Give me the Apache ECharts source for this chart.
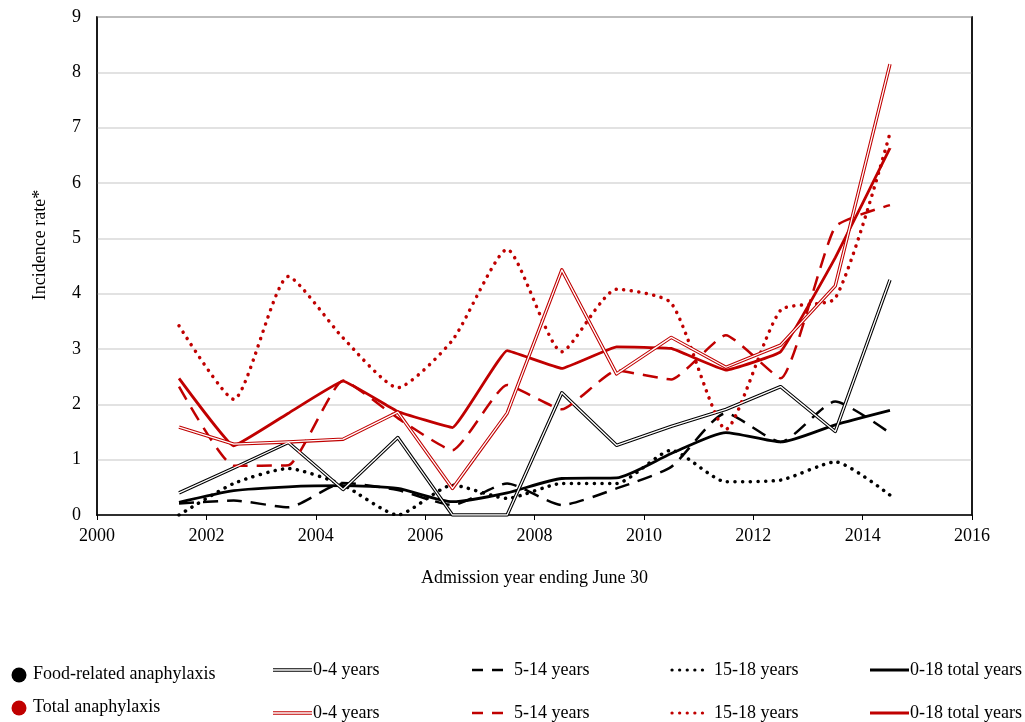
<!DOCTYPE html>
<html>
<head>
<meta charset="utf-8">
<script src="https://cdn.jsdelivr.net/npm/echarts@6/dist/echarts.min.js"></script>
<style>
  html, body { margin: 0; padding: 0; background: #fff; }
  #chart { width: 1025px; height: 722px; }
</style>
</head>
<body>
<div id="chart"></div>
<script>
// Admission years (mid-year points, year ending June 30)
const years = [2001.5, 2002.5, 2003.5, 2004.5, 2005.5, 2006.5, 2007.5,
               2008.5, 2009.5, 2010.5, 2011.5, 2012.5, 2013.5, 2014.5];

// Food-related anaphylaxis incidence rates
const food_0_4   = [0.40, 0.85, 1.31, 0.46, 1.40, 0.00, 0.00, 2.21, 1.26, 1.60, 1.91, 2.32, 1.51, 4.25];
const food_5_14  = [0.21, 0.26, 0.14, 0.58, 0.45, 0.18, 0.57, 0.18, 0.48, 0.87, 1.84, 1.32, 2.05, 1.48];
const food_15_18 = [0.00, 0.57, 0.84, 0.54, 0.00, 0.54, 0.30, 0.57, 0.57, 1.17, 0.60, 0.63, 0.96, 0.36];
const food_0_18  = [0.23, 0.44, 0.51, 0.53, 0.48, 0.24, 0.40, 0.66, 0.67, 1.11, 1.49, 1.32, 1.63, 1.89];

// Total anaphylaxis incidence rates
const total_0_4   = [1.59, 1.28, 1.32, 1.37, 1.86, 0.48, 1.84, 4.43, 2.55, 3.21, 2.67, 3.07, 4.14, 8.15];
const total_5_14  = [2.32, 0.89, 0.90, 2.43, 1.75, 1.17, 2.35, 1.91, 2.61, 2.45, 3.25, 2.47, 5.21, 5.60];
const total_15_18 = [3.42, 2.09, 4.31, 3.20, 2.30, 3.16, 4.80, 2.95, 4.08, 3.83, 1.55, 3.70, 3.92, 6.90];
const total_0_18  = [2.47, 1.25, 1.84, 2.42, 1.87, 1.58, 2.97, 2.65, 3.04, 3.01, 2.62, 2.95, 4.65, 6.63];

const RED = '#C00000';
const BLACK = '#000000';
const FONT = '"Liberation Serif", "Times New Roman", serif';

function pairs(vals) { return years.map((y, i) => [y, vals[i]]); }

function line(name, vals, color, opts) {
  return {
    name: name,
    type: 'line',
    data: pairs(vals),
    symbol: 'none',
    smooth: opts.smooth || false,
    z: opts.z || 2,
    lineStyle: {
      color: color,
      width: opts.width,
      type: opts.dash || 'solid',
      cap: opts.cap || 'butt',
      join: 'round'
    },
    silent: true
  };
}

// Double lines: a wide coloured stroke with a thin white core on top
function doubleLine(name, vals, color) {
  return [
    line(name, vals, color, { width: 3.4, z: 2 }),
    line(name + ' core', vals, '#ffffff', { width: 1.3, z: 3 })
  ];
}

const series = [].concat(
  doubleLine('Food 0-4', food_0_4, BLACK),
  [line('Food 5-14', food_5_14, BLACK, { width: 2.5, dash: [15, 9], smooth: 0.2 })],
  [line('Food 15-18', food_15_18, BLACK, { width: 3.5, dash: [0.1, 7.5], cap: 'round', smooth: 0.2 })],
  [line('Food 0-18', food_0_18, BLACK, { width: 2.8, smooth: 0.2 })],
  doubleLine('Total 0-4', total_0_4, RED),
  [line('Total 5-14', total_5_14, RED, { width: 2.5, dash: [15, 9], smooth: 0.15 })],
  [line('Total 15-18', total_15_18, RED, { width: 3.5, dash: [0.1, 7.5], cap: 'round', smooth: 0.2 })],
  [line('Total 0-18', total_0_18, RED, { width: 2.8, smooth: 0.08 })]
);

// Legend drawn as graphic elements
const legendRows = [
  { yDot: 675, yItems: 670, color: BLACK, label: 'Food-related anaphylaxis' },
  { yDot: 708, yItems: 713, color: RED, label: 'Total anaphylaxis' }
];
const graphics = [];
legendRows.forEach(function (row) {
  const txt = { fill: '#000', font: '18px ' + FONT, textVerticalAlign: 'middle' };
  const y = row.yItems;
  graphics.push({ type: 'circle', shape: { cx: 19, cy: row.yDot, r: 7.5 }, style: { fill: row.color } });
  graphics.push({ type: 'text', x: 33, y: row.yDot - 1, style: Object.assign({ text: row.label }, txt) });
  // 0-4 years (double line)
  graphics.push({ type: 'line', shape: { x1: 273, y1: y, x2: 312, y2: y }, style: { stroke: row.color, lineWidth: 3.4 } });
  graphics.push({ type: 'line', shape: { x1: 273, y1: y, x2: 312, y2: y }, style: { stroke: '#fff', lineWidth: 1.3 } });
  graphics.push({ type: 'text', x: 313, y: y, style: Object.assign({ text: '0-4 years' }, txt) });
  // 5-14 years (dashed)
  graphics.push({ type: 'line', shape: { x1: 472, y1: y, x2: 505, y2: y }, style: { stroke: row.color, lineWidth: 2.5, lineDash: [11, 9] } });
  graphics.push({ type: 'text', x: 514, y: y, style: Object.assign({ text: '5-14 years' }, txt) });
  // 15-18 years (dotted)
  graphics.push({ type: 'line', shape: { x1: 672, y1: y, x2: 708, y2: y }, style: { stroke: row.color, lineWidth: 3.2, lineDash: [0.1, 7.5], lineCap: 'round' } });
  graphics.push({ type: 'text', x: 714, y: y, style: Object.assign({ text: '15-18 years' }, txt) });
  // 0-18 total years (solid)
  graphics.push({ type: 'line', shape: { x1: 870, y1: y, x2: 909, y2: y }, style: { stroke: row.color, lineWidth: 2.8 } });
  graphics.push({ type: 'text', x: 910, y: y, style: Object.assign({ text: '0-18 total years' }, txt) });
});

// Y axis title
graphics.push({
  type: 'text', x: 40, y: 245, rotation: Math.PI / 2,
  style: { text: 'Incidence rate*', fill: '#000', font: '18px ' + FONT, textAlign: 'center', textVerticalAlign: 'middle' }
});

const chart = echarts.init(document.getElementById('chart'), null, { renderer: 'canvas' });
chart.setOption({
  animation: false,
  backgroundColor: '#ffffff',
  textStyle: { fontFamily: FONT },
  grid: {
    left: 97, right: 53, top: 17, bottom: 207,
    show: true, borderColor: '#6e6e6e', borderWidth: 2, backgroundColor: 'transparent'
  },
  xAxis: {
    type: 'value',
    min: 2000, max: 2016, interval: 2,
    name: 'Admission year ending June 30',
    nameLocation: 'middle', nameGap: 54,
    nameTextStyle: { color: '#000', fontSize: 18, fontFamily: FONT },
    axisLine: { lineStyle: { color: '#000', width: 1.5 } },
    axisTick: { show: true, length: 5, lineStyle: { color: '#000' } },
    axisLabel: { color: '#000', fontSize: 18, fontFamily: FONT, margin: 12, formatter: v => String(v) },
    splitLine: { show: false }
  },
  yAxis: [{
    type: 'value',
    min: 0, max: 9, interval: 1,
    axisLine: { show: true, lineStyle: { color: '#000', width: 1.5 } },
    axisTick: { show: false },
    axisLabel: { color: '#000', fontSize: 18, fontFamily: FONT, margin: 16 },
    splitLine: { show: true, lineStyle: { color: '#d9d9d9', width: 1.5 } }
  }, {
    type: 'value',
    min: 0, max: 9, interval: 1,
    position: 'right',
    axisLine: { show: true, lineStyle: { color: '#000', width: 1.5 } },
    axisTick: { show: false },
    axisLabel: { show: false },
    splitLine: { show: false }
  }],
  series: series,
  graphic: graphics
});
</script>
</body>
</html>
